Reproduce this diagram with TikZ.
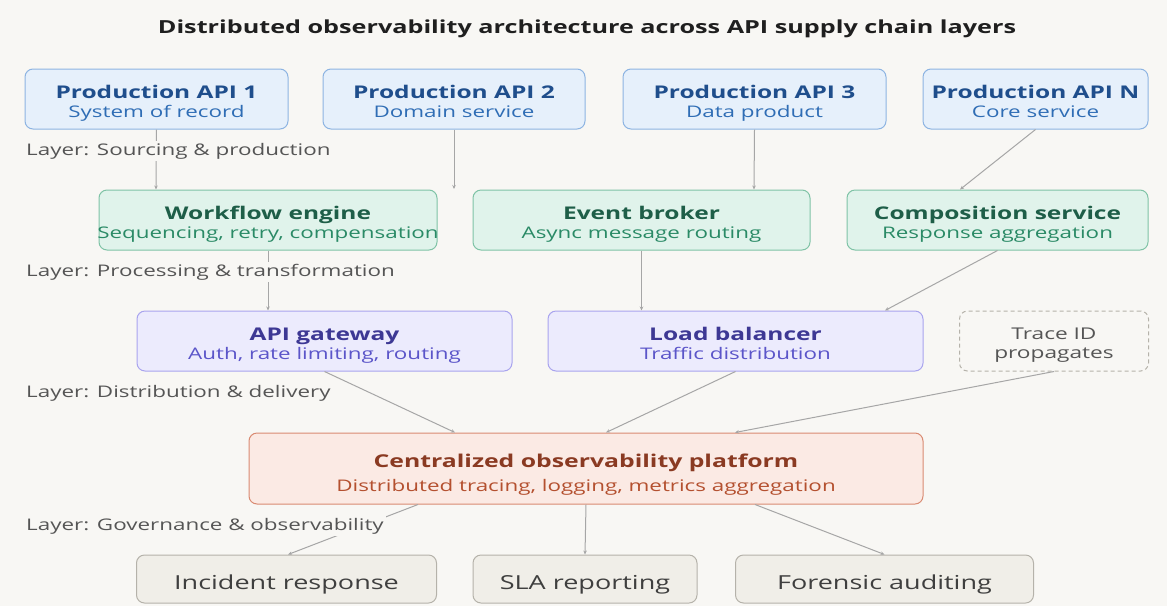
\documentclass[tikz,border=0pt]{standalone}
\usepackage{fontspec}
\setmainfont[FakeStretch=1.4]{Open Sans}
\usetikzlibrary{arrows.meta}
\definecolor{bg}{HTML}{F8F7F4}
\definecolor{bluefill}{HTML}{E6F0FB}
\definecolor{blueline}{HTML}{8DB4E2}
\definecolor{bluetitle}{HTML}{1F4E8C}
\definecolor{bluesub}{HTML}{2F6DB5}
\definecolor{greenfill}{HTML}{E0F3EB}
\definecolor{greenline}{HTML}{7FC3A6}
\definecolor{greentitle}{HTML}{1E5E48}
\definecolor{greensub}{HTML}{2A8A66}
\definecolor{purpfill}{HTML}{ECEBFD}
\definecolor{purpline}{HTML}{A9A4EE}
\definecolor{purptitle}{HTML}{3D3894}
\definecolor{purpsub}{HTML}{5B55C9}
\definecolor{redfill}{HTML}{FBEAE4}
\definecolor{redline}{HTML}{D98A72}
\definecolor{redtitle}{HTML}{8A3A22}
\definecolor{redsub}{HTML}{B4502F}
\definecolor{grayfill}{HTML}{F0EEE8}
\definecolor{grayline}{HTML}{B5B2AA}
\definecolor{graytext}{HTML}{3F3F3F}
\definecolor{labeltext}{HTML}{555555}
\definecolor{conn}{HTML}{A6A6A6}
\tikzset{
  box/.style={rounded corners=8pt, line width=1pt, inner sep=0pt, align=center, minimum height=60pt, font=\fontsize{16}{19.5}\selectfont},
  bluebox/.style={box, fill=bluefill, draw=blueline},
  greenbox/.style={box, fill=greenfill, draw=greenline},
  purpbox/.style={box, fill=purpfill, draw=purpline},
  redbox/.style={box, fill=redfill, draw=redline, minimum height=71pt, font=\fontsize{16}{24}\selectfont},
  graybox/.style={box, fill=grayfill, draw=grayline, minimum height=48pt, text=graytext, font=\fontsize{19.3}{22}\selectfont, text height=22pt, text depth=1pt},
  tracebox/.style={box, fill=bg, draw=grayline, dash pattern=on 4pt off 3pt, text=labeltext, font=\fontsize{16.2}{19.5}\selectfont},
  layerlabel/.style={anchor=base west, fill=bg, inner sep=2pt, text=labeltext, font=\fontsize{16}{18}\selectfont},
  conn/.style={draw=conn, line width=1pt, -{Stealth[length=4pt,width=3.5pt]}},
}
\newcommand{\twoline}[4]{\rule{0pt}{22pt}{\color{#1}\fontsize{17.5}{20}\selectfont\bfseries #3}\\{\color{#2}\fontsize{16}{18}\selectfont #4}\rule[-4pt]{0pt}{4pt}}
\begin{document}
\begin{tikzpicture}[x=1pt,y=-1pt]
\fill[bg] (0,0) rectangle (1167,606);
\useasboundingbox (0,0) rectangle (1167,606);
\node[anchor=base, text=black!88, font=\fontsize{18}{20}\selectfont\bfseries] (title) at (587,33) {Distributed observability architecture across API supply chain layers};
% row 1
\node[bluebox, minimum width=263pt] (p1) at (156.5,99) {\twoline{bluetitle}{bluesub}{Production API 1}{System of record}};
\node[bluebox, minimum width=262pt] (p2) at (454,99) {\twoline{bluetitle}{bluesub}{Production API 2}{Domain service}};
\node[bluebox, minimum width=263pt] (p3) at (754.5,99) {\twoline{bluetitle}{bluesub}{Production API 3}{Data product}};
\node[bluebox, minimum width=225pt] (pn) at (1035.5,99) {\twoline{bluetitle}{bluesub}{Production API N}{Core service}};
% row 2
\node[greenbox, minimum width=338pt] (wf) at (268,220) {\twoline{greentitle}{greensub}{Workflow engine}{\makebox[300pt]{Sequencing, retry, compensation}}};
\node[greenbox, minimum width=337pt] (eb) at (641.5,220) {\twoline{greentitle}{greensub}{Event broker}{Async message routing}};
\node[greenbox, minimum width=301pt] (cs) at (997.5,220) {\twoline{greentitle}{greensub}{Composition service}{Response aggregation}};
% row 3
\node[purpbox, minimum width=375pt] (gw) at (324.5,341) {\twoline{purptitle}{purpsub}{API gateway}{Auth, rate limiting, routing}};
\node[purpbox, minimum width=375pt] (lb) at (735.5,341) {\twoline{purptitle}{purpsub}{Load balancer}{Traffic distribution}};
\node[tracebox, minimum width=189pt] (tr) at (1054,341) {\rule{0pt}{21pt}Trace ID\\propagates\rule[-5pt]{0pt}{5pt}};
% row 4
\node[redbox, minimum width=674pt] (co) at (586,468.5) {\rule{0pt}{25pt}{\color{redtitle}\fontsize{17.7}{21}\selectfont\bfseries Centralized observability platform}\\{\color{redsub}\fontsize{16}{18}\selectfont Distributed tracing, logging, metrics aggregation}\rule[-4pt]{0pt}{4pt}};
% row 5
\node[graybox, minimum width=300pt] (ir) at (286.5,579) {Incident response};
\node[graybox, minimum width=224pt] (sla) at (585,579) {SLA reporting};
\node[graybox, minimum width=298pt] (fa) at (884.5,579) {Forensic auditing};
\coordinate (p2end) at (454,189);
% connectors
\draw[conn] (p1.south) -- ([xshift=-112pt]wf.north);
\draw[conn] (p2.south) -- (p2end);
\draw[conn] (p3.south) -- ([xshift=112.5pt]eb.north);
\draw[conn] (pn.south) -- ([xshift=-37.5pt]cs.north);
\draw[conn] (wf.south) -- ([xshift=-56.5pt]gw.north);
\draw[conn] (eb.south) -- ([xshift=-94pt]lb.north);
\draw[conn] (cs.south) -- ([xshift=149.5pt]lb.north);
\draw[conn] (gw.south) -- ([xshift=-131pt]co.north);
\draw[conn] (lb.south) -- ([xshift=20pt]co.north);
\draw[conn] (tr.south) -- ([xshift=149pt]co.north);
\draw[conn] ([xshift=-168pt]co.south) -- ([xshift=1.5pt]ir.north);
\draw[conn] (co.south) -- (sla.north);
\draw[conn] ([xshift=169pt]co.south) -- (fa.north);
% layer labels
\node[layerlabel] (l1) at (24,155) {Layer: Sourcing \& production};
\node[layerlabel] (l2) at (24,276) {Layer: Processing \& transformation};
\node[layerlabel] (l3) at (24,397) {Layer: Distribution \& delivery};
\node[layerlabel] (l4) at (24,530) {Layer: Governance \& observability};
\end{tikzpicture}
\end{document}
